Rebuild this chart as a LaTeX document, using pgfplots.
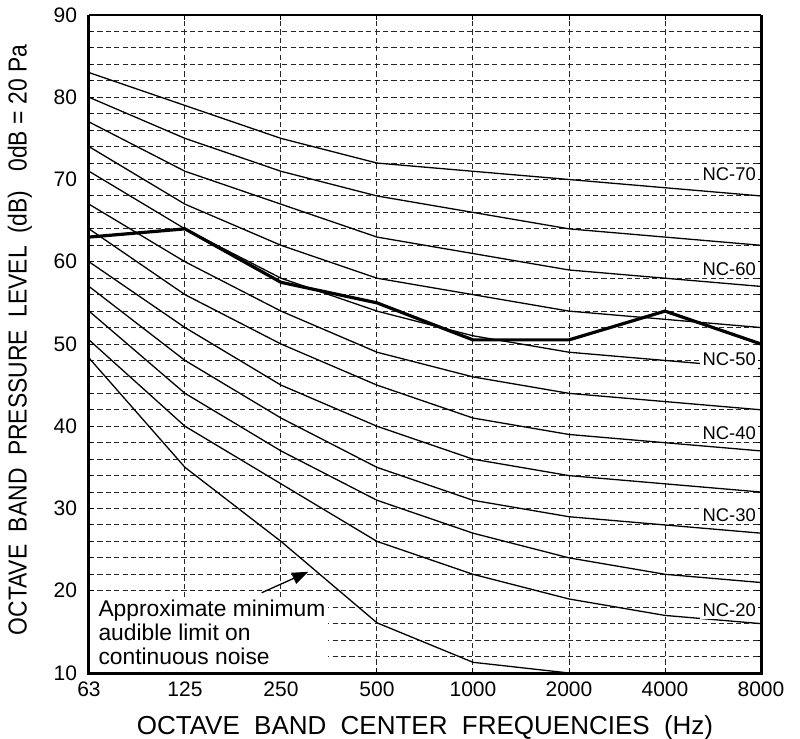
\documentclass[border=0pt]{standalone}
\usepackage{fontspec}
\setmainfont{Liberation Sans}
\usepackage{pgfplots}
\pgfplotsset{compat=1.18}
\usetikzlibrary{arrows.meta}
\newcommand{\gap}{\hspace{0.55em}}
\begin{document}
\begin{tikzpicture}
\useasboundingbox (-44.5bp,-33bp) rectangle (355.5bp,336.5bp);
\begin{axis}[
  at={(0,0)}, anchor=south west,
  width=336bp, height=329bp, scale only axis,
  xmin=0, xmax=7, ymin=10, ymax=90,
  clip=false,
  xtick={0,...,7},
  xticklabels={63,125,250,500,1000,2000,4000,8000},
  ytick={10,20,...,90},
  minor ytick={12,14,...,88},
  xmajorgrids, ymajorgrids, yminorgrids,
  major grid style={draw=black!85, line width=0.5bp, dash pattern=on 2.6bp off 1.6bp},
  minor grid style={draw=black!85, line width=0.5bp, dash pattern=on 2.6bp off 1.6bp},
  axis line style={draw=none},
  tick align=inside,
  major tick length=2.5bp, minor tick length=1.5bp,
  tick style={black, line width=0.5bp},
  /pgf/number format/assume math mode=true,
  ticklabel style={font=\fontsize{10.5bp}{12bp}\selectfont},
  yticklabel style={xshift=-2.5bp},
  xticklabel style={yshift=-1bp},
  xlabel={OCTAVE\gap BAND\gap CENTER\gap FREQUENCIES\gap (Hz)},
  ylabel={\scalebox{0.88}[1]{OCTAVE\gap BAND\gap PRESSURE\gap LEVEL\gap (dB)\gap\ 0dB = 20 Pa}},
  xlabel style={font=\fontsize{13bp}{15bp}\selectfont, at={(axis description cs:0.5,-0.0836)}, anchor=center},
  ylabel style={font=\fontsize{13bp}{15bp}\selectfont, at={(axis description cs:-0.1027,0.506)}, anchor=center},
]
% white box behind annotation
\fill[white] (axis cs:0.015,10.12) rectangle (axis cs:2.49,19.24);
% NC curves
\addplot[black, line width=0.65bp] coordinates {(0,83) (1,79) (2,75) (3,72) (4,71) (5,70) (6,69) (7,68)};
\addplot[black, line width=0.65bp] coordinates {(0,80) (1,75) (2,71) (3,68) (4,66) (5,64) (6,63) (7,62)};
\addplot[black, line width=0.65bp] coordinates {(0,77) (1,71) (2,67) (3,63) (4,61) (5,59) (6,58) (7,57)};
\addplot[black, line width=0.65bp] coordinates {(0,74) (1,67) (2,62) (3,58) (4,56) (5,54) (6,53) (7,52)};
\addplot[black, line width=0.65bp] coordinates {(0,71) (1,64) (2,58) (3,54) (4,51) (5,49) (6,48) (7,47)};
\addplot[black, line width=0.65bp] coordinates {(0,67) (1,60) (2,54) (3,49) (4,46) (5,44) (6,43) (7,42)};
\addplot[black, line width=0.65bp] coordinates {(0,64) (1,56) (2,50) (3,45) (4,41) (5,39) (6,38) (7,37)};
\addplot[black, line width=0.65bp] coordinates {(0,60) (1,52) (2,45) (3,40) (4,36) (5,34) (6,33) (7,32)};
\addplot[black, line width=0.65bp] coordinates {(0,57) (1,48) (2,41) (3,35) (4,31) (5,29) (6,28) (7,27)};
\addplot[black, line width=0.65bp] coordinates {(0,54) (1,44) (2,37) (3,31) (4,27) (5,24) (6,22) (7,21)};
\addplot[black, line width=0.65bp] coordinates {(0,50.5) (1,40) (2,33) (3,26) (4,22) (5,19) (6,17) (7,16)};
% approximate minimum audible limit
\addplot[black, line width=0.65bp] coordinates {(0,48.3) (1,35) (2,26) (3,16.1) (4,11.3) (5,10)};
% measured spectrum
\addplot[black, line width=1.6bp] coordinates {(0,63) (1,64) (2,57.5) (3,55) (4,50.5) (5,50.5) (6,54) (7,50)};
% NC labels
\begin{scope}[every node/.style={fill=white, inner sep=1.2bp, anchor=east, font=\fontsize{9.2bp}{11bp}\selectfont}]
\node at (axis cs:6.975,70.6) {NC-70};
\node at (axis cs:6.975,59.1) {NC-60};
\node at (axis cs:6.975,48.1) {NC-50};
\node at (axis cs:6.975,39.2) {NC-40};
\node at (axis cs:6.975,29.2) {NC-30};
\node at (axis cs:6.975,17.6) {NC-20};
\end{scope}
% annotation
\node[anchor=north west, inner sep=0pt, align=left, font=\fontsize{11.4bp}{11.8bp}\selectfont] at (axis cs:0.095,18.88) {Approximate minimum\\audible limit on\\continuous noise};
\draw[black, line width=0.65bp, -{Triangle[length=8bp, width=6bp]}] (axis cs:1.799,19.76) -- (axis cs:2.284,22.3);
% frame
\draw[black, line width=1bp] (rel axis cs:0,1) -- (rel axis cs:1,1);
\draw[black, line width=1.5bp] (rel axis cs:0,1) -- (rel axis cs:0,0) -- (rel axis cs:1,0) -- (rel axis cs:1,1);
\end{axis}
\end{tikzpicture}
\end{document}
